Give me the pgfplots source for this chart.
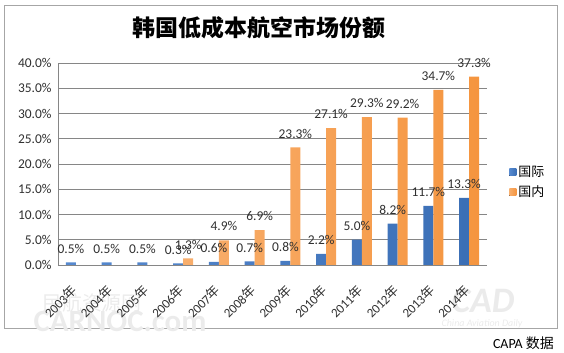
\documentclass[border=0pt]{standalone}
\usepackage{fontspec}
\setmainfont{Carlito}
\newfontfamily\cjk{Noto Sans CJK SC}
\usepackage{pgfplots}
\pgfplotsset{compat=1.18}
\definecolor{barblue}{HTML}{3B6FB6}
\definecolor{barblueL}{HTML}{5689CF}
\definecolor{barorange}{HTML}{F5953F}
\definecolor{barorangeL}{HTML}{F8AE6C}
\definecolor{gridgray}{HTML}{868686}
\definecolor{txt}{HTML}{303030}
\begin{document}
\begin{tikzpicture}
\path[use as bounding box] (0bp,0bp) rectangle (564bp,353bp);
\draw[gray!70, line width=0.8bp] (4bp,25bp) rectangle (557bp,348bp);
% faint watermarks
\node[text=black!8, font=\cjk\fontsize{20}{22}\selectfont] at (92bp,50bp) {民航资源网};
\node[text=black!8, font=\bfseries\fontsize{31}{33}\selectfont] at (120bp,32bp) {CARNOC.com};
\node[text=black!8, font=\bfseries\itshape\fontsize{36}{38}\selectfont] at (483bp,52bp) {CAD};
\node[text=black!8, font=\itshape\fontsize{10}{11}\selectfont] at (482bp,29bp) {China Aviation Daily};
\begin{axis}[
  at={(58bp,88bp)}, anchor=south west,
  width=429bp, height=202bp, scale only axis,
  xmin=-0.5, xmax=11.5, ymin=0, ymax=40,
  ybar=0pt, bar width=10bp,
  axis x line*=bottom, axis y line*=left,
  axis line style={gridgray, -},
  ymajorgrids, grid style={gridgray, line width=0.6bp},
  tick style={draw=none},
  ytick={0,5,...,40},
  xtick={0,...,11},
  xticklabels={2003{\cjk 年},2004{\cjk 年},2005{\cjk 年},2006{\cjk 年},2007{\cjk 年},2008{\cjk 年},2009{\cjk 年},2010{\cjk 年},2011{\cjk 年},2012{\cjk 年},2013{\cjk 年},2014{\cjk 年}},
  xticklabel style={yshift=-16bp, xshift=1bp, rotate=45, anchor=east, font=\fontsize{13}{14}\selectfont, text=txt},
  yticklabel={\pgfmathprintnumber[fixed,fixed zerofill,precision=1]{\tick}\%},
  yticklabel style={font=\fontsize{13.5}{15}\selectfont, text=txt, xshift=-3bp},
  /pgf/number format/assume math mode=true,
  nodes near coords={\pgfmathprintnumber[fixed,fixed zerofill,precision=1]{\pgfplotspointmeta}\%},
  nodes near coords style={font=\fontsize{13.5}{15}\selectfont, text=txt, anchor=south, inner sep=0pt, yshift=9bp},
  legend style={at={(1.045,0.41)}, anchor=west, draw=none, fill=none,
    font=\cjk\fontsize{13}{15}\selectfont, row sep=4bp, text=black},
  legend cell align=left,
  legend image code/.code={\fill[#1] (0bp,-3.5bp) rectangle (7bp,3.5bp);},
  clip=false,
]
\addplot[draw=none, left color=barblueL, right color=barblue] coordinates {
(0,0.5) (1,0.5) (2,0.5) (3,0.3) (4,0.6) (5,0.7) (6,0.8) (7,2.2) (8,5.0) (9,8.2) (10,11.7) (11,13.3)};
\addplot[draw=none, left color=barorangeL, right color=barorange] coordinates {
(3,1.3) (4,4.9) (5,6.9) (6,23.3) (7,27.1) (8,29.3) (9,29.2) (10,34.7) (11,37.3)};
\legend{国际,国内}
\end{axis}
\node[font=\cjk\bfseries\fontsize{23}{25}\selectfont] at (259bp,325bp) {韩国低成本航空市场份额};
\node[anchor=east, font=\fontsize{14}{16}\selectfont, inner sep=0pt] at (554bp,10bp) {CAPA {\cjk 数据}};
\end{tikzpicture}
\end{document}
